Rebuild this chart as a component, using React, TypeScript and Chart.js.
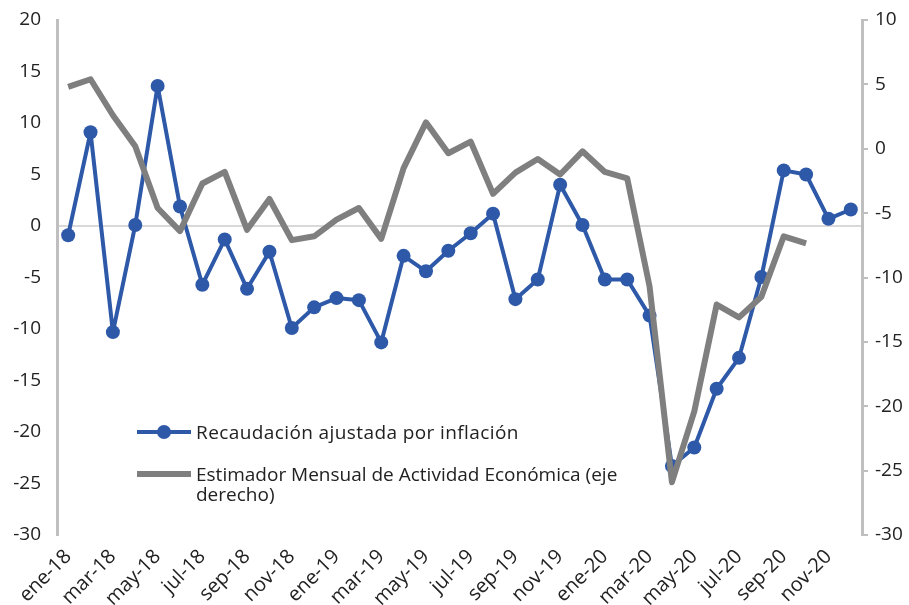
import React, { useEffect, useRef } from "react";
import { Chart, registerables } from "chart.js";

Chart.register(...registerables);

const categories = [
  "ene-18", "feb-18", "mar-18", "abr-18", "may-18", "jun-18", "jul-18", "ago-18", "sep-18", "oct-18", "nov-18", "dic-18",
  "ene-19", "feb-19", "mar-19", "abr-19", "may-19", "jun-19", "jul-19", "ago-19", "sep-19", "oct-19", "nov-19", "dic-19",
  "ene-20", "feb-20", "mar-20", "abr-20", "may-20", "jun-20", "jul-20", "ago-20", "sep-20", "oct-20", "nov-20", "dic-20",
];

const recaudacion = [
  -0.9, 9.1, -10.3, 0.1, 13.6, 1.9, -5.7, -1.3, -6.1, -2.5, -9.9, -7.9,
  -7.0, -7.2, -11.3, -2.9, -4.4, -2.4, -0.7, 1.2, -7.1, -5.2, 4.0, 0.1,
  -5.2, -5.2, -8.7, -23.3, -21.5, -15.8, -12.8, -4.95, 5.4, 5.0, 0.7, 1.6,
];

const emae = [
  4.8, 5.4, 2.6, 0.2, -4.6, -6.4, -2.7, -1.8, -6.3, -3.9, -7.1, -6.8,
  -5.5, -4.6, -7.0, -1.5, 2.05, -0.35, 0.55, -3.5, -1.85, -0.8, -2.0, -0.2,
  -1.8, -2.3, -10.7, -25.9, -20.4, -12.1, -13.1, -11.5, -6.8, -7.35, null, null,
];

const legendLabels = [
  "Recaudación ajustada por inflación",
  "Estimador Mensual de Actividad Económica (eje",
  "derecho)",
];

const BLUE = "#2E59A8";
const GRAY = "#7F7F7F";
const AXIS = "#BFBFBF";
const TEXT = "#222222";
const FONT = "'Open Sans', sans-serif";

export default function App() {
  const ref = useRef<HTMLCanvasElement | null>(null);

  useEffect(() => {
    document.body.style.margin = "0";
    const canvas = ref.current;
    if (!canvas) return;
    const chart = new Chart(canvas, {
      type: "line",
      data: {
        labels: categories,
        datasets: [
          {
            label: legendLabels[0],
            data: recaudacion,
            yAxisID: "y",
            borderColor: BLUE,
            backgroundColor: BLUE,
            borderWidth: 4,
            borderJoinStyle: "round",
            pointRadius: 7,
            pointBackgroundColor: BLUE,
            pointBorderWidth: 0,
            tension: 0,
            order: 2,
          },
          {
            label: legendLabels[1] + " " + legendLabels[2],
            data: emae,
            yAxisID: "y1",
            borderColor: GRAY,
            backgroundColor: GRAY,
            borderWidth: 6,
            borderJoinStyle: "round",
            pointRadius: 0,
            tension: 0,
            spanGaps: false,
            order: 1,
          },
        ],
      },
      options: {
        responsive: false,
        animation: false,
        layout: { padding: { top: 20, left: 0, right: 0, bottom: 0 } },
        plugins: { legend: { display: false }, tooltip: { enabled: false } },
        scales: {
          x: {
            type: "category",
            offset: true,
            grid: { display: false, drawTicks: false },
            border: { display: false },
            ticks: {
              autoSkip: false,
              maxRotation: 45,
              minRotation: 45,
              padding: 10,
              color: TEXT,
              font: { family: FONT, size: 20 },
              callback: (_v: any, i: number) => (i % 2 === 0 ? categories[i] : ""),
            },
            afterFit: (s: any) => {
              s.height = 70;
            },
          },
          y: {
            position: "left",
            min: -30,
            max: 20,
            ticks: {
              stepSize: 5,
              padding: 6,
              color: TEXT,
              font: { family: FONT, size: 19 },
            },
            grid: {
              drawTicks: true,
              tickLength: 10,
              tickColor: "rgba(0,0,0,0)",
              lineWidth: 2,
              color: (ctx: any) => (ctx.tick && ctx.tick.value === 0 ? "#D9D9D9" : "rgba(0,0,0,0)"),
            },
            border: { display: true, color: AXIS, width: 3 },
            afterFit: (s: any) => {
              s.width = 57;
            },
          },
          y1: {
            position: "right",
            min: -30,
            max: 10,
            ticks: {
              stepSize: 5,
              padding: 7,
              color: TEXT,
              font: { family: FONT, size: 19 },
            },
            grid: {
              drawOnChartArea: false,
              drawTicks: true,
              tickLength: 6,
              lineWidth: 2,
              color: AXIS,
            },
            border: { display: true, color: AXIS, width: 3 },
            afterFit: (s: any) => {
              s.width = 47;
            },
          },
        },
      },
    });
    return () => chart.destroy();
  }, []);

  const textStyle: React.CSSProperties = {
    position: "absolute",
    left: 196,
    fontFamily: FONT,
    fontSize: 19,
    lineHeight: "20px",
    color: TEXT,
    whiteSpace: "nowrap",
  };

  return (
    <div style={{ position: "relative", width: 909, height: 605 }}>
      <canvas ref={ref} width={909} height={605} style={{ display: "block" }} />
      <div style={{ position: "absolute", left: 137, top: 430, width: 54, height: 4, background: BLUE }} />
      <div style={{ position: "absolute", left: 157, top: 425, width: 14, height: 14, borderRadius: 7, background: BLUE }} />
      <div style={{ ...textStyle, top: 422, letterSpacing: "0.4px" }}>{legendLabels[0]}</div>
      <div style={{ position: "absolute", left: 137, top: 471, width: 54, height: 6, background: GRAY }} />
      <div style={{ ...textStyle, top: 464 }}>
        {legendLabels[1]}
        <br />
        {legendLabels[2]}
      </div>
    </div>
  );
}
